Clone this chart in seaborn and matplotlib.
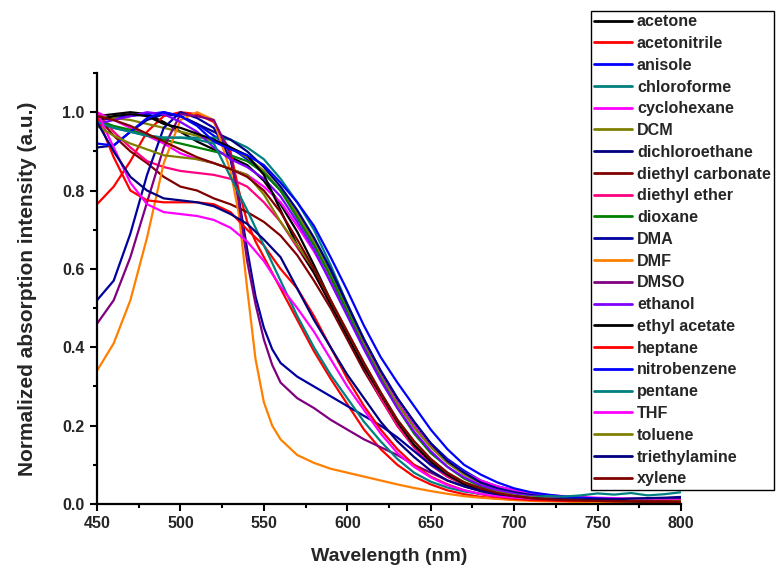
import numpy as np
import pandas as pd
import matplotlib
matplotlib.use("Agg")
import matplotlib.pyplot as plt
from matplotlib.ticker import MultipleLocator
import seaborn as sns

# wavelength grids (nm)
W = list(range(450, 801, 10))
WF = list(range(450, 531, 10)) + [535, 540, 545, 550, 555] + list(range(560, 801, 10))

solvents = ["acetone", "acetonitrile", "anisole", "chloroforme", "cyclohexane", "DCM",
            "dichloroethane", "diethyl carbonate", "diethyl ether", "dioxane", "DMA", "DMF",
            "DMSO", "ethanol", "ethyl acetate", "heptane", "nitrobenzene", "pentane", "THF",
            "toluene", "triethylamine", "xylene"]

colors = ["#000000", "#FF0000", "#0000FF", "#008080", "#FF00FF", "#808000",
          "#000080", "#800000", "#FF0080", "#008000", "#0000A0", "#FF8000",
          "#800080", "#8000FF", "#000000", "#FF0000", "#0000FF", "#008080", "#FF00FF",
          "#808000", "#000080", "#800000"]

acetone = [0.99,0.995,1.0,0.995,0.975,0.95,0.925,0.905,0.885,0.865,0.825,0.765,0.695,0.61,0.52,0.43,0.345,0.27,0.205,0.15,0.105,0.075,0.053,0.038,0.028,0.02,
           0.015,0.012,0.01,0.009,0.008,0.008,0.007,0.007,0.006,0.006]
acetonitrile = [0.765,0.81,0.875,0.95,0.99,1.0,0.995,0.975,0.90,
                0.80,0.72,0.67,0.63,0.59,
                0.55,0.47,0.39,0.32,0.255,0.19,0.14,0.10,0.07,0.05,0.035,0.025,0.018,0.014,0.011,
                0.01,0.009,0.008,0.008,0.007,0.007,0.006,0.006,0.006,0.005]
anisole = [0.98,0.985,0.99,0.995,1.0,0.99,0.97,0.94,0.91,0.88,0.845,0.80,0.74,0.67,0.59,0.50,0.42,0.34,0.27,0.21,0.155,0.115,0.085,0.06,0.045,0.035,
           0.027,0.022,0.018,0.015,0.013,0.012,0.011,0.01,0.01,0.009]
chloroforme = [0.97,0.96,0.95,0.94,0.935,0.935,0.935,0.935,0.93,0.91,0.88,0.83,0.77,0.70,0.61,0.51,0.42,0.33,0.26,0.20,0.15,0.11,0.08,0.057,0.042,0.032,
               0.025,0.02,0.017,0.015,0.014,0.013,0.012,0.012,0.011,0.011]
cyclohexane = [1.0,0.98,0.96,0.94,0.92,0.895,0.88,0.87,0.855,0.84,0.81,0.77,0.71,0.645,0.57,0.49,0.41,0.33,0.26,0.20,0.15,0.11,0.08,0.06,0.045,0.035,
               0.028,0.023,0.02,0.018,0.016,0.015,0.014,0.013,0.013,0.012]
dcm = [0.99,0.985,0.98,0.97,0.96,0.95,0.94,0.925,0.91,0.885,0.85,0.80,0.74,0.67,0.585,0.495,0.405,0.325,0.255,0.195,0.145,0.105,0.075,0.053,0.038,0.028,
       0.021,0.017,0.014,0.012,0.011,0.01,0.01,0.009,0.009,0.008]
dichloroethane = [0.91,0.915,0.95,0.98,0.995,0.99,0.97,0.95,0.93,0.90,0.86,0.81,0.75,0.68,0.60,0.51,0.42,0.34,0.27,0.21,0.155,0.11,0.08,0.055,0.04,0.03,
                  0.023,0.019,0.016,0.014,0.013,0.012,0.012,0.011,0.011,0.012]
diethyl_carbonate = [0.99,0.94,0.90,0.87,0.835,0.81,0.80,0.78,0.765,0.745,0.72,0.685,0.635,0.57,0.50,0.42,0.34,0.27,0.20,0.145,0.10,0.07,0.05,0.035,0.025,0.018,
                     0.014,0.011,0.009,0.008,0.007,0.007,0.006,0.006,0.006,0.005]
diethyl_ether = [1.0,0.95,0.91,0.875,0.86,0.85,0.845,0.84,0.83,0.81,0.77,0.72,0.655,0.59,0.51,0.43,0.35,0.27,0.20,0.145,0.10,0.07,0.05,0.035,0.025,0.018,
                 0.014,0.012,0.01,0.009,0.008,0.008,0.007,0.007,0.007,0.006]
dioxane = [0.98,0.965,0.955,0.94,0.93,0.92,0.91,0.90,0.89,0.875,0.845,0.80,0.73,0.66,0.58,0.49,0.40,0.32,0.245,0.18,0.13,0.095,0.065,0.045,0.032,0.024,
           0.018,0.014,0.012,0.01,0.009,0.009,0.008,0.008,0.007,0.007]
dma = [0.52,0.57,0.69,0.84,0.96,1.0,0.985,0.96,0.88,
       0.78,0.65,0.53,0.45,0.395,
       0.36,0.325,0.30,0.275,0.25,0.225,0.20,0.17,0.135,0.10,0.075,0.055,0.04,0.03,0.022,
       0.017,0.014,0.012,0.011,0.01,0.01,0.009,0.009,0.009,0.008]
dmf = [0.34,0.41,0.52,0.68,0.87,0.98,1.0,0.98,0.85,
       0.74,0.55,0.37,0.26,0.20,
       0.165,0.125,0.105,0.09,0.08,0.07,0.06,0.05,0.041,0.033,0.026,0.02,0.016,0.013,0.01,
       0.008,0.007,0.006,0.005,0.005,0.004,0.004,0.004,0.003,0.003]
dmso = [0.46,0.52,0.63,0.77,0.91,0.995,0.99,0.98,0.89,
        0.77,0.62,0.51,0.42,0.355,
        0.31,0.27,0.245,0.215,0.19,0.165,0.145,0.125,0.10,0.08,0.06,0.045,0.033,0.024,0.018,
        0.014,0.012,0.01,0.009,0.008,0.008,0.007,0.007,0.007,0.006]
ethanol = [0.97,0.98,0.99,1.0,0.995,0.975,0.95,0.91,0.88,0.86,0.83,0.785,0.72,0.65,0.565,0.48,0.395,0.315,0.245,0.185,0.135,0.095,0.068,0.048,0.035,0.026,
           0.02,0.016,0.013,0.012,0.011,0.01,0.01,0.009,0.009,0.009]
ethyl_acetate = [0.98,0.99,0.995,0.99,0.97,0.96,0.945,0.93,0.91,0.89,0.84,0.75,0.66,0.59,0.51,0.43,0.35,0.28,0.21,0.15,0.11,0.075,0.05,0.035,0.025,0.018,
                 0.014,0.011,0.009,0.008,0.008,0.007,0.007,0.006,0.006,0.006]
heptane = [0.99,0.885,0.80,0.775,0.77,0.77,0.77,0.765,0.745,0.70,0.66,0.60,0.55,0.48,0.40,0.32,0.25,0.19,0.14,0.10,0.07,0.05,0.035,0.025,0.018,0.013,
           0.01,0.009,0.008,0.008,0.008,0.007,0.009,0.007,0.007,0.006]
nitrobenzene = [0.92,0.915,0.95,0.985,1.0,0.99,0.965,0.925,0.905,0.89,0.865,0.82,0.77,0.71,0.63,0.545,0.455,0.375,0.31,0.25,0.19,0.14,0.10,0.075,0.055,0.04,
                0.03,0.024,0.019,0.016,0.014,0.013,0.012,0.011,0.01,0.01]
pentane = [0.975,0.96,0.95,0.94,0.935,0.935,0.93,0.92,0.835,0.75,0.66,0.57,0.48,0.40,0.33,0.27,0.21,0.16,0.115,0.08,0.057,0.042,0.032,0.026,0.023,0.021,
           0.018,0.02,0.019,0.022,0.027,0.024,0.028,0.022,0.025,0.03]
thf = [1.0,0.91,0.82,0.765,0.745,0.74,0.735,0.725,0.705,0.67,0.62,0.555,0.50,0.44,0.37,0.30,0.24,0.18,0.13,0.095,0.068,0.048,0.035,0.026,0.02,0.016,
       0.014,0.013,0.012,0.012,0.011,0.011,0.011,0.01,0.01,0.01]
toluene = [0.965,0.94,0.92,0.905,0.89,0.885,0.88,0.87,0.855,0.84,0.79,0.72,0.66,0.60,0.52,0.44,0.36,0.285,0.215,0.16,0.115,0.08,0.056,0.04,0.03,0.022,
           0.017,0.014,0.012,0.011,0.01,0.009,0.009,0.008,0.008,0.008]
triethylamine = [0.975,0.90,0.835,0.80,0.78,0.775,0.77,0.76,0.74,0.715,0.675,0.63,0.55,0.47,0.40,0.33,0.27,0.21,0.16,0.12,0.085,0.06,0.045,0.033,0.025,0.02,
                 0.015,0.013,0.012,0.012,0.013,0.012,0.014,0.015,0.016,0.018]
xylene = [0.99,0.98,0.965,0.945,0.925,0.905,0.885,0.87,0.855,0.835,0.80,0.745,0.675,0.60,0.52,0.44,0.36,0.285,0.215,0.16,0.115,0.08,0.055,0.04,0.028,0.02,
          0.015,0.012,0.01,0.009,0.008,0.008,0.007,0.007,0.007,0.006]

series = [acetone, acetonitrile, anisole, chloroforme, cyclohexane, dcm, dichloroethane,
          diethyl_carbonate, diethyl_ether, dioxane, dma, dmf, dmso, ethanol, ethyl_acetate,
          heptane, nitrobenzene, pentane, thf, toluene, triethylamine, xylene]

rows = []
for name, vals in zip(solvents, series):
    grid = WF if len(vals) == len(WF) else W
    for w, v in zip(grid, vals):
        rows.append((name, w, v))
df = pd.DataFrame(rows, columns=["solvent", "wavelength", "absorbance"])

sns.set_style("ticks")
plt.rcParams["font.family"] = ["Liberation Sans", "DejaVu Sans"]
plt.rcParams["font.weight"] = "bold"

fig = plt.figure(figsize=(7.81, 5.70), dpi=100)
ax = fig.add_axes([97/781, 1-504/570, (681-97)/781, (504-73)/570])

sns.lineplot(data=df, x="wavelength", y="absorbance", hue="solvent", hue_order=solvents,
             palette=dict(zip(solvents, colors)), linewidth=1.6, errorbar=None,
             estimator=None, sort=True, ax=ax, legend=True)

ax.set_xlim(450, 800)
ax.set_ylim(0, 1.1)
ax.xaxis.set_major_locator(MultipleLocator(50))
ax.xaxis.set_minor_locator(MultipleLocator(25))
ax.yaxis.set_minor_locator(MultipleLocator(0.1))
ax.set_yticks([0.0, 0.2, 0.4, 0.6, 0.8, 1.0])
ax.set_yticklabels(["0.0", "0.2", "0.4", "0.6", "0.8", "1.0"])
ax.tick_params(axis="both", which="major", direction="out", length=5, width=1.5,
               labelsize=11.5, color="black", pad=4)
ax.tick_params(axis="both", which="minor", direction="out", length=3, width=1.5, color="black")
for lab in ax.get_xticklabels() + ax.get_yticklabels():
    lab.set_fontweight("bold")
for s in ["top", "right"]:
    ax.spines[s].set_visible(False)
for s in ["left", "bottom"]:
    ax.spines[s].set_linewidth(1.6)
    ax.spines[s].set_color("black")

ax.set_xlabel("Wavelength (nm)", fontsize=14, fontweight="bold", labelpad=12)
ax.set_ylabel("Normalized absorption intensity (a.u.)", fontsize=15, fontweight="bold", labelpad=18)

handles, labels = ax.get_legend_handles_labels()
ax.get_legend().remove()
leg = fig.legend(handles, labels, loc="upper left", bbox_to_anchor=(591/781, 1-11/570),
                 bbox_transform=fig.transFigure, frameon=True, fancybox=False,
                 edgecolor="black", framealpha=1, labelspacing=0.42,
                 handlelength=2.35, handletextpad=0.3, borderpad=0.2, borderaxespad=0,
                 prop={"weight": "bold", "size": 11.6})
leg.get_frame().set_linewidth(1.0)
for h in leg.get_lines():
    h.set_linewidth(2.0)

fig.savefig("out.png", dpi=100)
